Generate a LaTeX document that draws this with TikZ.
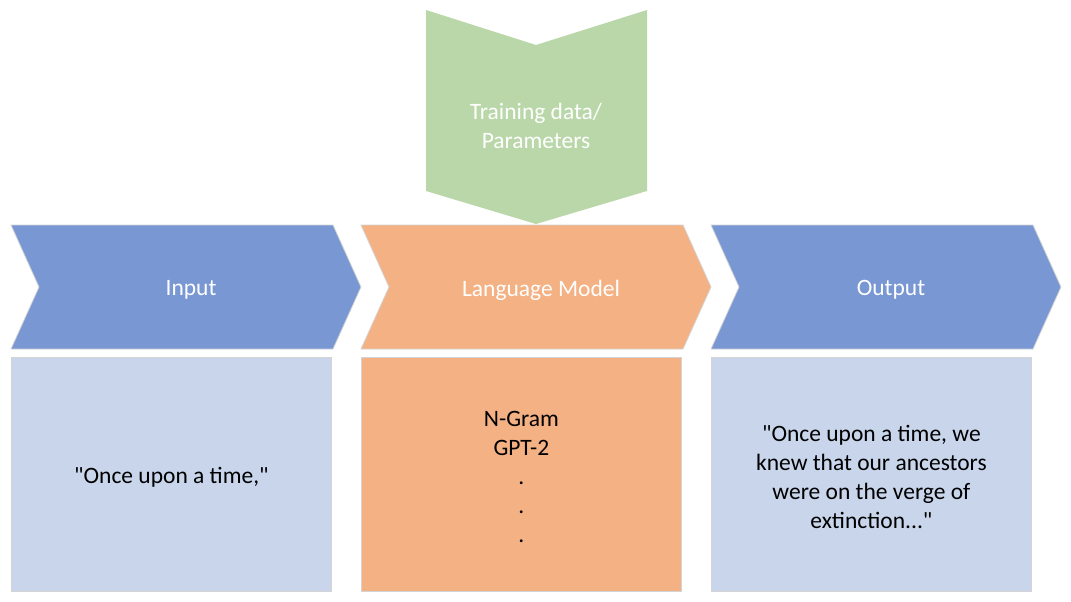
\documentclass[tikz,border=0pt]{standalone}
\usepackage{fontspec}
\setmainfont{Carlito}[Ligatures=TeXOff]
\definecolor{chevblue}{HTML}{7897D3}
\definecolor{chevorange}{HTML}{F4B183}
\definecolor{chevgreen}{HTML}{B9D7A8}
\definecolor{boxblue}{HTML}{C8D5EB}
\definecolor{edgegray}{HTML}{D4D4D4}
\tikzset{
  chev/.style={draw=edgegray, line width=0.8pt, line join=miter},
  headtext/.style={text=white, font=\fontsize{23.5}{29}\selectfont, align=center},
  bodybox/.style={draw=edgegray, line width=0.8pt, minimum width=320pt, minimum height=234pt, inner sep=0pt, anchor=north west},
  bodytext/.style={text=black, font=\fontsize{23.5}{29}\selectfont, align=center},
}
\begin{document}
\begin{tikzpicture}[x=1pt,y=-1pt]
\useasboundingbox (0,0) rectangle (1071,602);
% top green chevron (pointing down)
\fill[chevgreen] (426,10) -- (536,45) -- (647,10) -- (647,191) -- (536,224) -- (426,191) -- cycle;
\node[headtext] (train) at (536,126) {Training data/\\Parameters};
% horizontal chevrons
\foreach \x/\c/\n in {11/chevblue/a, 361/chevorange/b, 711/chevblue/c}{
  \filldraw[chev, fill=\c] (\x,225) -- (\x+322,225) -- (\x+350,287) -- (\x+322,349) -- (\x,349) -- (\x+28,287) -- cycle;
}
\node[headtext] (input) at (191,290) {Input};
\node[headtext] (lm) at (541,290) {Language Model};
\node[headtext] (output) at (891,290) {Output};
% body boxes
\node[bodybox, fill=boxblue] (inbox) at (11,357) {};
\node[bodybox, fill=chevorange] (lmbox) at (361,357) {};
\node[bodybox, fill=boxblue] (outbox) at (711,357) {};
\node[bodytext] (intext) at ([yshift=-3pt]inbox.center) {"Once upon a time,"};
\node[bodytext] (lmtext) at ([yshift=-3pt]lmbox.center) {N-Gram\\GPT-2\\.\\.\\.};
\node[bodytext] (outtext) at ([yshift=-3pt]outbox.center) {"Once upon a time, we\\knew that our ancestors\\were on the verge of\\extinction..."};
\end{tikzpicture}
\end{document}
